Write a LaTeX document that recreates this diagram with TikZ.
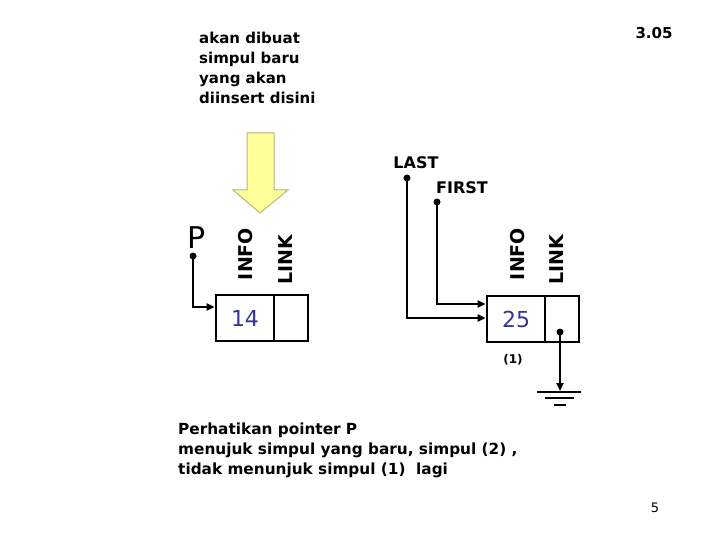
\documentclass[tikz,border=0pt]{standalone}
\usepackage{fontspec}
\setmainfont{DejaVu Sans}
\usetikzlibrary{arrows.meta}
\definecolor{numblue}{HTML}{333399}
\definecolor{arrfill}{HTML}{FFFF99}
\definecolor{arrline}{HTML}{B8B880}
\tikzset{
  lab/.style={font=\bfseries\fontsize{15}{19}\selectfont, inner sep=0pt},
  rlab/.style={font=\bfseries\fontsize{19}{21}\selectfont, inner sep=0pt, rotate=90},
  cell/.style={draw, line width=2.6pt, minimum height=46pt, inner sep=0pt},
  num/.style={font=\fontsize{22}{24}\selectfont, text=numblue},
  conn/.style={line width=2.4pt, -{Triangle[length=8pt,width=7pt]}},
  dotc/.style={circle, fill, inner sep=0pt, minimum size=7pt}
}
\begin{document}
\begin{tikzpicture}[x=1pt,y=-1pt]
\useasboundingbox (0,0) rectangle (720,540);
% top text
\node[lab, anchor=north west, align=left, font=\bfseries\fontsize{15}{20}\selectfont] (t1) at (199,32) {akan dibuat\\simpul baru\\yang akan\\diinsert disini};
\node[lab] (num) at (654,33) {3.05};
% yellow arrow
\draw[arrline, fill=arrfill, line width=1pt] (247,133) -- (274,133) -- (274,190) -- (288,190) -- (260,213) -- (233,190) -- (247,190) -- cycle;
% node 14
\node[cell, minimum width=58pt] (i1) at (245,318) {};
\node[cell, minimum width=34pt] (l1) at (291,318) {};
\node[num] at (i1) {14};
\node[rlab] (info1) at (246,254) {INFO};
\node[rlab] (link1) at (286,260) {LINK};
\node[font=\fontsize{30}{32}\selectfont, inner sep=0pt] (P) at (197,238) {P};
\node[dotc] (pd) at (193,256) {};
\coordinate (pc) at (193,307);
\draw[conn] (pd.center) -- (pc) -- (i1.west |- pc);
% node 25
\node[cell, minimum width=58pt] (i2) at (516,319) {};
\node[cell, minimum width=34pt] (l2) at (562,319) {};
\node[num] at (i2) {25};
\node[rlab] (info2) at (518,254) {INFO};
\node[rlab] (link2) at (557,260) {LINK};
\node[lab, font=\bfseries\fontsize{16}{19}\selectfont] (last) at (416,163) {LAST};
\node[lab, font=\bfseries\fontsize{16}{19}\selectfont] (first) at (462,188) {FIRST};
\node[dotc] (ld) at (407,178) {};
\node[dotc] (fd) at (437,202) {};
\coordinate (lc) at (407,318);
\coordinate (fc) at (437,304);
\draw[conn] (ld.center) -- (lc) -- (i2.west |- lc);
\draw[conn] (fd.center) -- (fc) -- (i2.west |- fc);
\node[dotc] (kd) at (560,332) {};
\coordinate (gnd) at (560,391);
\draw[conn] (kd.center) -- (gnd);
\draw[line width=2.4pt] (537,392) -- (581,392);
\draw[line width=2.4pt] (545,398) -- (574,398);
\draw[line width=2.4pt] (554,405) -- (566,405);
\node[lab, font=\bfseries\fontsize{12}{14}\selectfont] (one) at (513,360) {(1)};
% bottom text
\node[lab, anchor=north west, align=left, font=\bfseries\fontsize{15.3}{20}\selectfont] (bt) at (178,423) {Perhatikan pointer P\\menujuk simpul yang baru, simpul (2) ,\\tidak menunjuk simpul (1)~ lagi};
\node[font=\fontsize{13}{15}\selectfont, inner sep=0pt] (pg) at (655,508) {5};
\end{tikzpicture}
\end{document}
